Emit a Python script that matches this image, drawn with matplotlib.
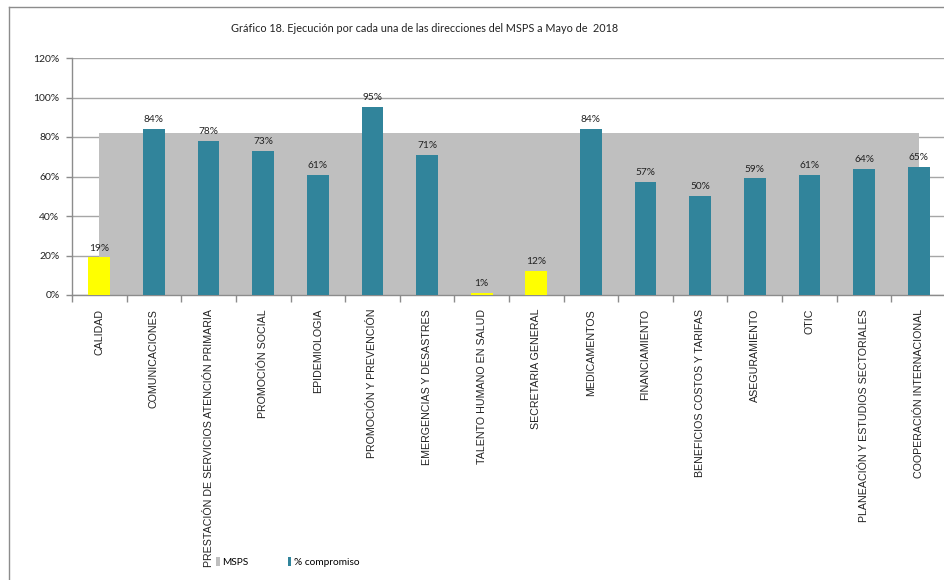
import numpy as np
import matplotlib
matplotlib.use("Agg")
import matplotlib.pyplot as plt
from matplotlib.lines import Line2D
from matplotlib.patches import Patch

# Datos
direcciones = ["CALIDAD", "COMUNICACIONES", "PRESTACIÓN DE SERVICIOS ATENCIÓN PRIMARIA",
               "PROMOCIÓN SOCIAL", "EPIDEMIOLOGIA", "PROMOCIÓN Y PREVENCIÓN",
               "EMERGENCIAS Y DESASTRES", "TALENTO HUMANO EN SALUD",
               "SECRETARIA GENERAL", "MEDICAMENTOS", "FINANCIAMIENTO",
               "BENEFICIOS COSTOS Y TARIFAS", "ASEGURAMIENTO", "OTIC",
               "PLANEACIÓN Y ESTUDIOS SECTORIALES", "COOPERACIÓN INTERNACIONAL"]
compromiso = [19, 84, 78, 73, 61, 95, 71, 1, 12, 84, 57, 50, 59, 61, 64, 65]
msps = [82, 82, 82, 82, 82, 82, 82, 82, 82, 82, 82, 82, 82, 82, 82, 82]
y_ticks = [0, 20, 40, 60, 80, 100, 120]

TITULO = "Gráfico 18. Ejecución por cada una de las direcciones del MSPS a Mayo de  2018"

C_TEAL = "#31849B"
C_YEL = "#FFFF00"
C_GRIS = "#BFBFBF"
C_EJE = "#8C8C8C"
FAM = ["Lato", "Liberation Sans", "DejaVu Sans"]
FAM_X = ["Liberation Sans", "DejaVu Sans"]

fig = plt.figure(figsize=(9.44, 5.80), dpi=100)
ax = fig.add_axes([72 / 944, 1 - 295 / 580, (946 - 72) / 944, (295 - 58) / 580])

x = np.arange(len(direcciones))
ax.fill_between(x, msps, color=C_GRIS, linewidth=0, zorder=2)
colores = [C_YEL if v < 20 else C_TEAL for v in compromiso]
ax.bar(x, compromiso, width=0.4, color=colores, zorder=3)

for xi, v in zip(x, compromiso):
    ax.text(xi, v + 2.5, f"{v}%", ha="center", va="bottom", fontsize=7.3,
            family=FAM, color="#222222", zorder=4)

ax.set_xlim(-0.5, len(direcciones) - 0.5)
ax.set_ylim(0, 120)
ax.set_yticks(y_ticks)
ax.set_yticklabels([f"{t}%" for t in y_ticks], family=FAM, fontsize=7.5)
ax.grid(axis="y", color="#A6A6A6", linewidth=1, zorder=0)
ax.set_axisbelow(True)

ax.set_xticks(x)
ax.set_xticklabels(direcciones, rotation=90, fontsize=7.7, family=FAM_X,
                   color="#222222")
ax.set_xticks(np.arange(-0.5, len(direcciones)), minor=True)
ax.tick_params(axis="x", which="major", length=0, pad=10)
ax.tick_params(axis="x", which="minor", length=5, color=C_EJE, width=1)
ax.tick_params(axis="y", length=4, color=C_EJE, width=1, pad=5, labelcolor="#222222")

for s in ["top", "right"]:
    ax.spines[s].set_visible(False)
for s in ["left", "bottom"]:
    ax.spines[s].set_color(C_EJE)
    ax.spines[s].set_linewidth(1)

fig.text(425 / 944, 1 - 29 / 580, TITULO, ha="center", va="center",
         fontsize=7.8, family=FAM, color="#222222")

handles = [Patch(facecolor=C_GRIS, label="MSPS"),
           Patch(facecolor=C_TEAL, label="% compromiso")]
fig.legend(handles=handles, loc="center left", bbox_to_anchor=(216 / 944, 1 - 562 / 580),
           ncol=2, frameon=False, handlelength=0.35, handleheight=1.0,
           handletextpad=0.25, columnspacing=3.9, borderaxespad=0, borderpad=0,
           prop={"family": FAM, "size": 7.3})

# marco exterior del grafico
fig.add_artist(Line2D([9 / 944, 9 / 944], [0, 1 - 7 / 580], color="#8C8C8C", linewidth=1))
fig.add_artist(Line2D([9 / 944, 1], [1 - 7 / 580, 1 - 7 / 580], color="#8C8C8C", linewidth=1))

fig.savefig("out.png", dpi=100)
